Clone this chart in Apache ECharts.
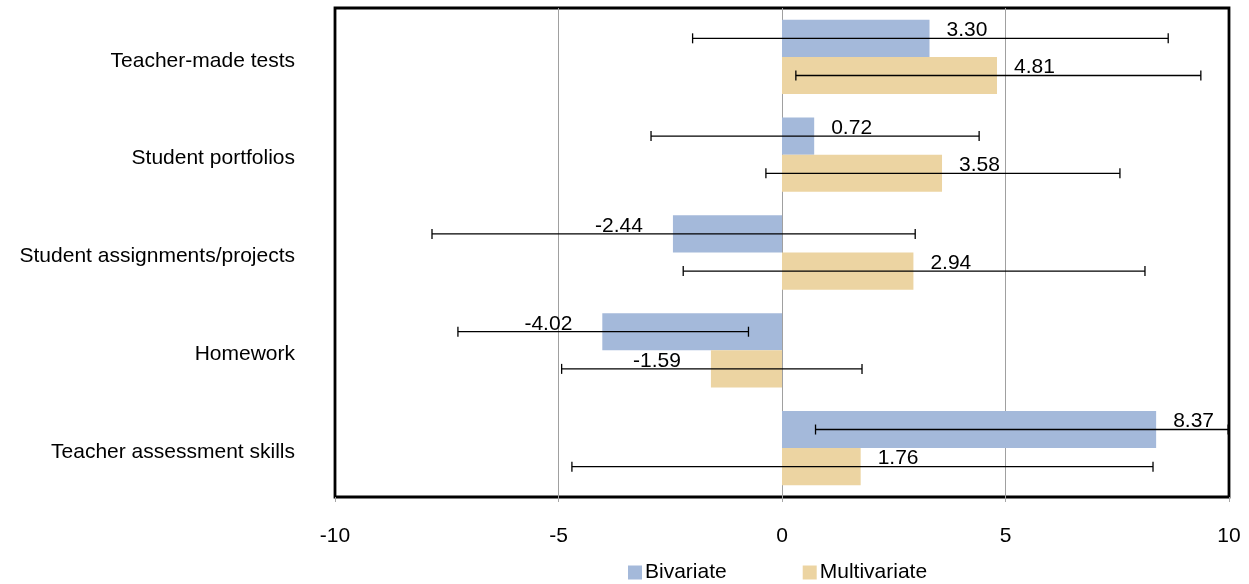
<!DOCTYPE html>
<html><head><meta charset="utf-8">
<script src="https://cdn.jsdelivr.net/npm/echarts@6/dist/echarts.min.js"></script>
<style>html,body{margin:0;padding:0;background:#fff}#c{width:1249px;height:584px}</style>
</head><body><div id="c"></div>
<script>
const categories = ['Teacher-made tests','Student portfolios','Student assignments/projects','Homework','Teacher assessment skills'];
const bivariate = [3.30, 0.72, -2.44, -4.02, 8.37];
const multivariate = [4.81, 3.58, 2.94, -1.59, 1.76];
const bivariateLow = [-2.00, -2.93, -7.83, -7.25, 0.75];
const bivariateHigh = [8.64, 4.41, 2.98, -0.75, 9.98];
const multivariateLow = [0.31, -0.36, -2.21, -4.93, -4.70];
const multivariateHigh = [9.37, 7.56, 8.12, 1.79, 8.30];
const xTicks = [-10, -5, 0, 5, 10];

const FONT = 'Liberation Sans, Arial, sans-serif';
const FS = 21;
const chart = echarts.init(document.getElementById('c'));

function barData(vals){
  return vals.map(v => ({
    value: v,
    label: { position: v < 0 ? 'left' : 'right', distance: v < 0 ? 30 : 17 }
  }));
}
function errData(lo, hi){
  return categories.map((c, i) => [i, lo[i], hi[i]]);
}
function errSeries(name, lo, hi, sign){
  return {
    type: 'custom', name: name + ' CI', silent: true, z: 10,
    encode: { x: [1, 2], y: 0 },
    data: errData(lo, hi),
    renderItem: function(params, api){
      const cat = api.value(0);
      const a = api.coord([api.value(1), cat]);
      const b = api.coord([api.value(2), cat]);
      const band = api.size([0, 1])[1];
      const y = a[1] + sign * band * 0.19;
      const h = 5;
      const st = { stroke: '#000', lineWidth: 1.3 };
      return { type: 'group', children: [
        { type: 'line', shape: { x1: a[0], y1: y, x2: b[0], y2: y }, style: st },
        { type: 'line', shape: { x1: a[0], y1: y - h, x2: a[0], y2: y + h }, style: st },
        { type: 'line', shape: { x1: b[0], y1: y - h, x2: b[0], y2: y + h }, style: st }
      ]};
    }
  };
}

const labelCfg = {
  show: true, color: '#000', fontSize: FS, fontFamily: FONT,
  offset: [0, -8],
  formatter: p => p.value.toFixed(2)
};

chart.setOption({
  animation: false,
  textStyle: { fontFamily: FONT },
  grid: { left: 335, right: 20, top: 8, bottom: 87, show: true, borderColor: '#000', borderWidth: 2.8, backgroundColor: 'transparent' },
  legend: {
    data: ['Bivariate', 'Multivariate'], left: 623, top: 557, itemGap: 76,
    icon: 'rect', itemWidth: 14, itemHeight: 14, itemStyle: { borderWidth: 0 },
    textStyle: { fontSize: FS, color: '#000', fontFamily: FONT, padding: [0, 0, 0, -2] }
  },
  xAxis: {
    type: 'value', min: xTicks[0], max: xTicks[xTicks.length - 1], interval: 5,
    axisLine: { show: false },
    axisTick: { show: true, length: 5, lineStyle: { color: '#a6a6a6' } },
    axisLabel: { fontSize: FS, color: '#000', fontFamily: FONT, margin: 29 },
    splitLine: { show: true, showMinLine: false, showMaxLine: false, lineStyle: { color: '#a0a0a0', width: 1 } }
  },
  yAxis: {
    type: 'category', data: categories, inverse: true,
    axisLine: { show: false }, axisTick: { show: false },
    axisLabel: {
      margin: 40,
      formatter: v => '{a|' + v + '}',
      rich: { a: { fontSize: FS, color: '#000', fontFamily: FONT, padding: [8, 0, 0, 0] } }
    }
  },
  series: [
    { type: 'bar', name: 'Bivariate', data: barData(bivariate), barGap: '0%', barCategoryGap: '24%',
      itemStyle: { color: '#a4b9da' }, label: labelCfg },
    { type: 'bar', name: 'Multivariate', data: barData(multivariate), barGap: '0%', barCategoryGap: '24%',
      itemStyle: { color: '#ecd4a2' }, label: labelCfg },
    errSeries('Bivariate', bivariateLow, bivariateHigh, -1),
    errSeries('Multivariate', multivariateLow, multivariateHigh, 1)
  ]
});
</script></body></html>
